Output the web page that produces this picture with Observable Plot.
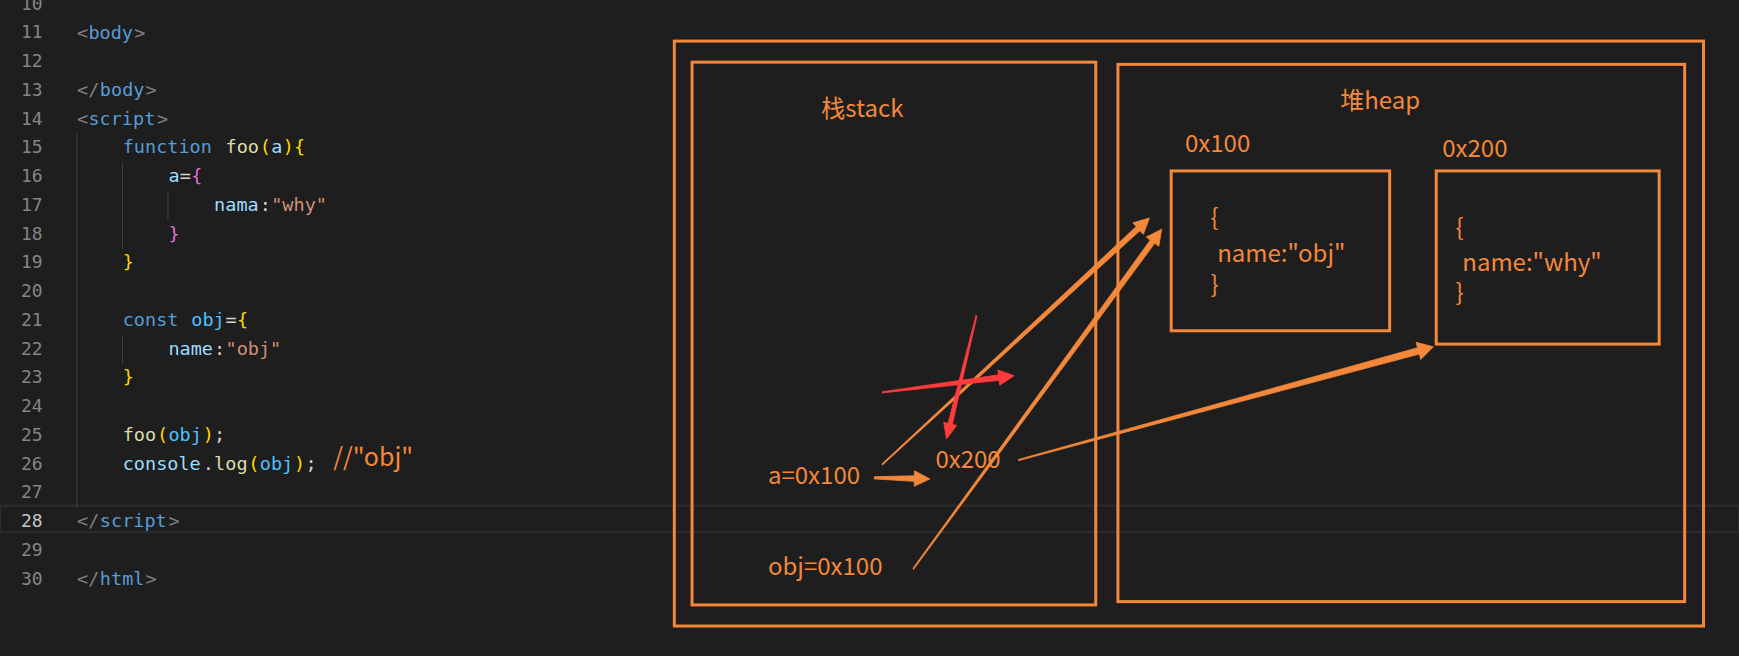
<!DOCTYPE html>
<html><head><meta charset="utf-8">
<script src="https://cdn.jsdelivr.net/npm/d3@7"></script>
<script src="https://cdn.jsdelivr.net/npm/@observablehq/plot@0.6"></script>
<style>body{margin:0;background:#1e1e1e;overflow:hidden}</style>
</head><body><div id="c"></div>
<script>
const G="#808080",B="#569cd6",Y="#ffd700",F="#dcdcaa",V="#9cdcfe",O="#4fc1ff",P="#da70d6",S="#ce9178",W="#d4d4d4";
const lineNumbers=[10,11,12,13,14,15,16,17,18,19,20,21,22,23,24,25,26,27,28,29,30];
const codeLines=[
 [11,0,[["<",G],["body",B],[">",G]]],
 [13,0,[["</",G],["body",B],[">",G]]],
 [14,0,[["<",G],["script",B],[">",G]]],
 [15,4,[["function",B],[" ",W],["foo",F],["(",Y],["a",V],[")",Y],["{",Y]]],
 [16,8,[["a",V],["=",W],["{",P]]],
 [17,12,[["nama",V],[":",W],["\"why\"",S]]],
 [18,8,[["}",P]]],
 [19,4,[["}",Y]]],
 [21,4,[["const",B],[" ",W],["obj",O],["=",W],["{",Y]]],
 [22,8,[["name",V],[":",W],["\"obj\"",S]]],
 [23,4,[["}",Y]]],
 [25,4,[["foo",F],["(",Y],["obj",O],[")",Y],[";",W]]],
 [26,4,[["console",V],[".",W],["log",F],["(",Y],["obj",O],[")",Y],[";",W]]],
 [28,0,[["</",G],["script",B],[">",G]]],
 [30,0,[["</",G],["html",B],[">",G]]]
];
const guides=[[69,15,27],[110,16,18],[151,17,17],[110,22,22]];
const boxes=[[608,37,1536,564],[624,56,988,545],[1008,58,1519,542],[1056,154,1253,298],[1295,154,1496,310]];
const labels=[["栈stack",740,98],["堆heap",1208,91],["0x100",1068,130],["0x200",1300,134],["{",1091,196],["name:\"obj\"",1097,229],["}",1091,257],["{",1312,205],["name:\"why\"",1318,237],["}",1312,264],["a=0x100",692,429],["0x200",843,414],["obj=0x100",692,511]];
const arrows=[[795,418,1036,196,1,5,"#f4883a"],[823,512,1047,206,1,5,"#f4883a"],[918,414,1292,312,1,6,"#f4883a"],[788,430,838,431,2,5,"#f4883a"],[795,353,914,338,1,5,"#ff3b3b"],[880,284,853,395,1,4,"#ff3b3b"]];

const lineY=n=>3+(n-10)*25.9, CW=10.3, X0=69;
const tokens=[];
codeLines.forEach(([ln,col,toks])=>{let c=col;toks.forEach(([t,color])=>{tokens.push({x:X0+c*CW,y:lineY(ln),t,color});c+=t.length;});});
const poly=[];
arrows.forEach(([x1,y1,x2,y2,w0,w1,color],i)=>{
  const dx=x2-x1,dy=y2-y1,L=Math.hypot(dx,dy),ux=dx/L,uy=dy/L,nx=-uy,ny=ux,h=Math.min(14,L*0.3),hw=w1+2;
  const bx=x2-ux*h,by=y2-uy*h;
  [[x1+nx*w0/2,y1+ny*w0/2],[bx+nx*w1/2,by+ny*w1/2],[bx+nx*hw,by+ny*hw],[x2,y2],[bx-nx*hw,by-ny*hw],[bx-nx*w1/2,by-ny*w1/2],[x1-nx*w0/2,y1-ny*w0/2],[x1+nx*w0/2,y1+ny*w0/2]]
   .forEach(([x,y])=>poly.push({x,y,id:i,color}));
});
const OR="#f4883a";
const chart=Plot.plot({
  width:1739,height:656,margin:0,
  x:{domain:[0,1568],range:[0,1739],axis:null},
  y:{domain:[0,591],range:[0,656],axis:null},
  style:{background:"#1e1e1e"},
  marks:[
    Plot.rect([[0,455.5,1568,479.5]],{x1:d=>d[0],y1:d=>d[1],x2:d=>d[2],y2:d=>d[3],fill:"#1e1e1e",stroke:"#2c2c2c",strokeWidth:2}),
    Plot.ruleX(guides,{x:d=>d[0],y1:d=>lineY(d[1])-12,y2:d=>lineY(d[2])+14,stroke:"#404040"}),
    Plot.text(lineNumbers,{x:38,y:d=>lineY(d),text:d=>String(d),textAnchor:"end",fill:d=>d===28?"#c6c6c6":"#858585",fontSize:18,fontFamily:"DejaVu Sans Mono"}),
    Plot.text(tokens,{x:"x",y:"y",text:"t",fill:"color",textAnchor:"start",fontSize:18.5,fontFamily:"DejaVu Sans Mono"}),
    Plot.text(["//\"obj\""],{x:300,y:412,text:d=>d,fill:OR,textAnchor:"start",fontSize:25,fontFamily:"Noto Sans CJK SC"}),
    Plot.rect(boxes,{x1:d=>d[0],y1:d=>d[1],x2:d=>d[2],y2:d=>d[3],fill:"none",stroke:OR,strokeWidth:3}),
    Plot.text(labels,{x:d=>d[1],y:d=>d[2],text:d=>d[0],fill:OR,textAnchor:"start",fontSize:24,fontFamily:"Noto Sans CJK SC"}),
    Plot.line(poly,{x:"x",y:"y",z:"id",fill:"color",stroke:"color",strokeWidth:0.8,curve:"linear"})
  ]
});
document.getElementById("c").appendChild(chart);
</script></body></html>
